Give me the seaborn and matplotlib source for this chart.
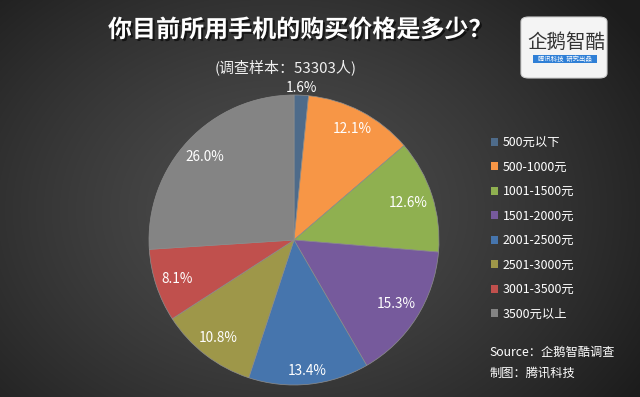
import numpy as np
import pandas as pd
import seaborn as sns
import matplotlib
matplotlib.use("Agg")
import matplotlib.pyplot as plt
from matplotlib.patches import FancyBboxPatch, Rectangle
import matplotlib.patheffects as pe

# ---- data ----
categories = ["500元以下", "500-1000元", "1001-1500元", "1501-2000元",
              "2001-2500元", "2501-3000元", "3001-3500元", "3500元以上"]
shares = [1.6, 12.1, 12.6, 15.3, 13.4, 10.8, 8.1, 26.0]
colors = ["#4e6b8a", "#f79646", "#8fb050", "#765a9c",
          "#4675ad", "#9e9749", "#c0504d", "#848484"]
title = "你目前所用手机的购买价格是多少？"
subtitle = "(调查样本：53303人)"
source_lines = ["Source：企鹅智酷调查", "制图：腾讯科技"]

df = pd.DataFrame({"category": categories, "share": shares})

sns.set_theme(style="white")
FONT = ["Noto Sans CJK SC", "DejaVu Sans"]
plt.rcParams["font.family"] = FONT

W, H = 640, 397
fig = plt.figure(figsize=(W / 100, H / 100), dpi=100)

# ---- background gradient ----
bg = fig.add_axes([0, 0, 1, 1], zorder=-10)
yy, xx = np.mgrid[0:H, 0:W]
d = np.sqrt(((xx - 280) / 430.0) ** 2 + ((yy - 210) / 330.0) ** 2)
d = np.clip(d, 0, 1) ** 1.3
v = (0x4e - (0x4e - 0x1c) * d) / 255.0
img = np.dstack([v, v, v])
bg.imshow(img, extent=[0, W, H, 0], aspect="auto", interpolation="bilinear")
bg.set_xlim(0, W)
bg.set_ylim(H, 0)
bg.axis("off")

# ---- pie ----
cx, cy, R = 294, 240, 145
ax = fig.add_axes([(cx - R) / W, (H - cy - R) / H, 2 * R / W, 2 * R / H])
wedges, _ = ax.pie(df["share"], colors=colors, startangle=90, counterclock=False,
                   wedgeprops=dict(edgecolor="#8e8e8e", linewidth=0.5))
ax.set_xlim(-1, 1)
ax.set_ylim(-1, 1)
ax.set_aspect("equal")
ax.axis("off")
for w in wedges:
    w.set_clip_on(False)

total = df["share"].sum()
fig.canvas.draw()
renderer = fig.canvas.get_renderer()
px_per_unit = R
margin = 0.035
for w, val in zip(wedges, df["share"]):
    theta = np.deg2rad((w.theta1 + w.theta2) / 2)
    t = ax.text(0, 0, f"{val:.1f}%", ha="center", va="center",
                color="white", fontsize=9.8, family=FONT)
    bb = t.get_window_extent(renderer)
    hw = bb.width / 2 / px_per_unit
    hh = bb.height / 2 / px_per_unit * 0.75
    c, s = np.cos(theta), np.sin(theta)
    if val / total < 0.03:
        r = 1.0 + hh + 0.01
    else:
        a = np.sign(c) * hw
        b = np.sign(s) * hh
        k = c * a + s * b
        L = 1 - margin
        r = -k + np.sqrt(k * k - (a * a + b * b - L * L))
    t.set_position((r * c, r * s))

# ---- legend ----
leg = ax.legend(wedges, df["category"], loc="upper left",
                bbox_to_anchor=(491 / W, 1 - 136 / H), bbox_transform=fig.transFigure,
                frameon=False, fontsize=8.9, labelcolor="white",
                handlelength=0.6, handleheight=0.6, handletextpad=0.35,
                labelspacing=0.93, borderpad=0, borderaxespad=0)
for h in leg.legend_handles:
    h.set_edgecolor("none")

# ---- titles ----
fig.text(300 / W, 1 - 30 / H, title, ha="center", va="center", color="white",
         fontsize=17.3, fontweight="bold", family=FONT,
         path_effects=[pe.withSimplePatchShadow(offset=(1.5, -1.5), shadow_rgbFace="black", alpha=0.6)])
fig.text(286 / W, 1 - 67 / H, subtitle, ha="center", va="center", color="#f0f0f0",
         fontsize=10.8, family=FONT)

# ---- logo ----
logo = FancyBboxPatch((521 / W, 1 - 78 / H), 86 / W, 61 / H,
                      boxstyle="round,pad=0,rounding_size=0.012",
                      transform=fig.transFigure, facecolor="#f4f4f4",
                      edgecolor="#cfcfcf", linewidth=0.8)
fig.add_artist(logo)
fig.text(566 / W, 1 - 42 / H, "企鹅智酷", ha="center", va="center", color="#333333",
         fontsize=14, family=FONT)
bar = Rectangle((533 / W, 1 - 63 / H), 64 / W, 8 / H, transform=fig.transFigure,
                facecolor="#2f7fd6", edgecolor="none")
fig.add_artist(bar)
fig.text(565 / W, 1 - 59 / H, "腾讯科技  研究出品", ha="center", va="center",
         color="white", fontsize=4.6, family=FONT)

# ---- source ----
fig.text(489 / W, 1 - 352 / H, source_lines[0], ha="left", va="center",
         color="white", fontsize=8.8, style="italic", family=FONT)
fig.text(489 / W, 1 - 373 / H, source_lines[1], ha="left", va="center",
         color="white", fontsize=8.8, style="italic", family=FONT)

fig.savefig("out.png", dpi=100)
